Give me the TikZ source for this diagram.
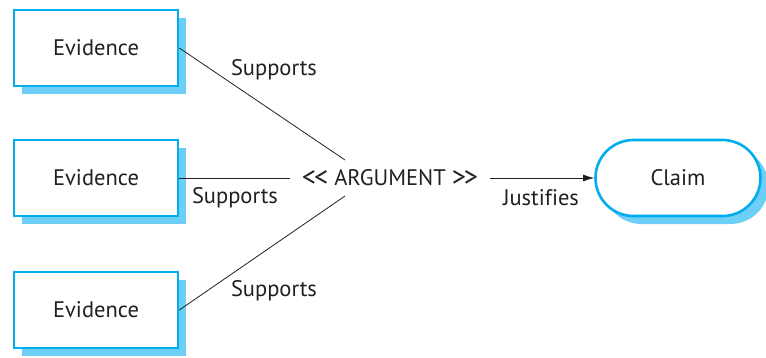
\documentclass[tikz,border=0pt]{standalone}
\usepackage{graphicx}
\usepackage{fontspec}
\setmainfont[Ligatures=NoCommon]{PT Sans}
\usetikzlibrary{shadows,arrows.meta}
\definecolor{bordercyan}{HTML}{00AEEF}
\definecolor{shadowcyan}{HTML}{6DCFF6}
\definecolor{txt}{HTML}{231F20}
\newcommand{\bigLt}{\raisebox{-0.06em}{\scalebox{1.25}{<}}}
\newcommand{\bigGt}{\raisebox{-0.06em}{\scalebox{1.25}{>}}}
\tikzset{
  evbox/.style={draw=bordercyan, line width=2.6pt, fill=white, minimum width=164pt, minimum height=76pt, inner sep=0pt,
    drop shadow={shadow xshift=8pt, shadow yshift=-8pt, fill=shadowcyan, opacity=1}, font=\fontsize{22.5}{26}\selectfont, text=txt},
  claimbox/.style={evbox, rounded corners=38pt,
    drop shadow={shadow xshift=5pt, shadow yshift=-5pt, fill=shadowcyan, opacity=1}},
  lbl/.style={font=\fontsize{22.5}{26}\selectfont, text=txt, inner sep=0pt},
  conn/.style={draw=txt, line width=0.8pt}
}
\begin{document}
\begin{tikzpicture}[x=1pt,y=1pt]
\useasboundingbox (0,0) rectangle (766,357);
\node[evbox] (e1) at (96,309) {Evidence};
\node[evbox] (e2) at (96,179) {Evidence};
\node[evbox] (e3) at (96,47) {Evidence};
\node[claimbox, minimum width=165pt] (c) at (678,179) {Claim};
\node[lbl, inner sep=0pt, minimum width=200pt, minimum height=20pt] (arg) at (390,179) {\bigLt\kern-2pt\bigLt\ ARGUMENT \bigGt\kern-2pt\bigGt};
\coordinate (a1) at (345,197);
\coordinate (a3) at (345,161);
\draw[conn] (e1.east) -- (a1);
\draw[conn] (e2.east) -- (arg.west);
\draw[conn] (e3.east) -- (a3);
\draw[conn, -{Latex[length=11pt,width=7pt]}] (arg.east) -- (c.west);
\node[lbl] (s1) at (274,287) {Supports};
\node[lbl] (s2) at (235,159) {Supports};
\node[lbl] (s3) at (274,66) {Supports};
\node[lbl] (j) at (541,159) {Justifies};
\end{tikzpicture}
\end{document}
